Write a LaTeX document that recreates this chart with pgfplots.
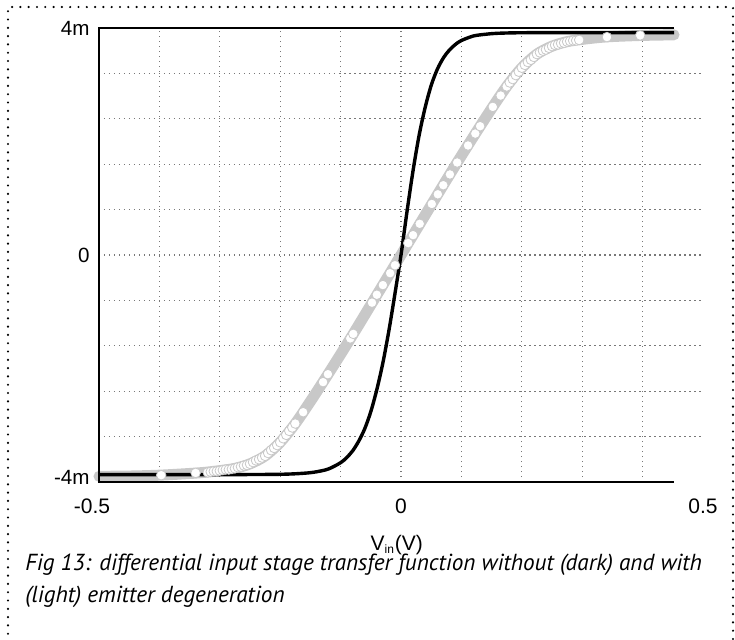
\documentclass[border=0pt]{standalone}
\usepackage{fontspec}
\setmainfont{Liberation Sans}
\newfontfamily\capfont{PT Sans}
\usepackage{pgfplots}
\pgfplotsset{compat=1.18}
\definecolor{lightg}{RGB}{200,200,200}
\definecolor{gridg}{RGB}{120,120,120}

\pgfplotstableread{
x y
-0.5 -3.87
-0.3 -3.87
-0.2 -3.864
-0.16 -3.845
-0.14 -3.82
-0.12 -3.77
-0.10 -3.66
-0.09 -3.57
-0.08 -3.45
-0.07 -3.28
-0.06 -3.06
-0.05 -2.76
-0.04 -2.37
-0.03 -1.90
-0.02 -1.33
-0.01 -0.68
0 0
0.01 0.77
0.02 1.49
0.03 2.11
0.04 2.60
0.05 2.99
0.06 3.27
0.07 3.47
0.08 3.61
0.09 3.71
0.10 3.78
0.12 3.86
0.14 3.89
0.16 3.907
0.2 3.917
0.3 3.92
0.452 3.92
}\darktab

\pgfplotstableread{
x y
-0.5 -3.90
-0.45 -3.895
-0.4 -3.88
-0.35 -3.85
-0.325 -3.83
-0.3 -3.80
-0.275 -3.76
-0.25 -3.68
-0.225 -3.54
-0.2 -3.30
-0.175 -2.97
-0.15 -2.58
-0.125 -2.17
-0.1 -1.75
-0.075 -1.32
-0.05 -0.88
-0.025 -0.44
0 0
0.025 0.44
0.05 0.88
0.075 1.32
0.1 1.75
0.125 2.17
0.15 2.58
0.175 2.97
0.2 3.30
0.225 3.54
0.25 3.68
0.275 3.76
0.3 3.80
0.325 3.83
0.35 3.85
0.4 3.87
0.452 3.88
}\lighttab

\pgfplotstableread{
x y
-0.397 -3.88
-0.340 -3.84
-0.320 -3.83
-0.315 -3.82
-0.310 -3.81
-0.305 -3.81
-0.300 -3.80
-0.295 -3.79
-0.290 -3.78
-0.285 -3.78
-0.280 -3.77
-0.275 -3.76
-0.270 -3.74
-0.265 -3.73
-0.260 -3.71
-0.255 -3.70
-0.250 -3.68
-0.245 -3.65
-0.240 -3.62
-0.235 -3.60
-0.230 -3.57
-0.225 -3.54
-0.220 -3.49
-0.215 -3.44
-0.210 -3.40
-0.205 -3.35
-0.200 -3.30
-0.195 -3.23
-0.190 -3.17
-0.185 -3.10
-0.180 -3.04
-0.175 -2.97
-0.162 -2.77
-0.129 -2.24
-0.121 -2.10
-0.084 -1.47
-0.079 -1.39
-0.048 -0.84
-0.040 -0.70
-0.030 -0.53
-0.018 -0.32
-0.010 -0.18
0.012 0.21
0.020 0.35
0.031 0.55
0.051 0.90
0.061 1.07
0.070 1.23
0.081 1.42
0.093 1.63
0.111 1.93
0.123 2.14
0.131 2.27
0.152 2.61
0.165 2.81
0.175 2.97
0.180 3.04
0.185 3.10
0.190 3.17
0.195 3.23
0.200 3.30
0.205 3.35
0.210 3.40
0.215 3.44
0.220 3.49
0.225 3.54
0.230 3.57
0.235 3.60
0.240 3.62
0.245 3.65
0.250 3.68
0.255 3.70
0.260 3.71
0.265 3.73
0.270 3.74
0.275 3.76
0.280 3.77
0.285 3.78
0.290 3.78
0.295 3.79
0.341 3.84
0.396 3.87
}\marktab

\begin{document}
\begin{tikzpicture}
\useasboundingbox (-49.5pt,-78.5pt) rectangle (318pt,241pt);
\draw[line width=1.2pt, line cap=round, dash pattern=on 0pt off 4.15pt]
  (-45.5pt,-80pt) -- (-45.5pt,237.5pt) -- (317pt,237.5pt) -- (317pt,-80pt);
\begin{axis}[
  at={(0pt,0pt)}, anchor=south west,
  scale only axis, width=302pt, height=227pt,
  xmin=-0.5, xmax=0.5, ymin=-4, ymax=4,
  clip=false,
  axis line style={draw=none},
  major tick length=0pt, minor tick length=0pt,
  xtick={-0.5,0,0.5}, xticklabels={\kern-7pt-0.5,0,0.5},
  ytick={-4,0,4}, yticklabels={\raisebox{2.5pt}{-4m},0,4m},
  minor xtick={-0.4,-0.3,-0.2,-0.1,0,0.1,0.2,0.3,0.4},
  minor ytick={-3.2,-2.4,-1.6,-0.8,0,0.8,1.6,2.4,3.2},
  xminorgrids=true, yminorgrids=true,
  minor grid style={gridg, line width=0.6pt, dash pattern=on 0.75pt off 1.75pt},
  xticklabel style={font=\fontsize{10.5}{12}\selectfont, anchor=base, yshift=-15.5pt},
  yticklabel style={font=\fontsize{10.3}{12}\selectfont, anchor=base east, inner sep=0pt, xshift=-4.5pt, yshift=-3.7pt},
  xlabel={V\textsubscript{\fontsize{6}{7}\selectfont in}(V)},
  xlabel style={at={(0.493,0)}, anchor=base, yshift=-34pt, font=\fontsize{10.5}{12}\selectfont},
]
\addplot[lightg, line width=5.5pt, line cap=round, smooth] table {\lighttab};
\addplot[only marks, mark=*, mark size=2.4pt, mark options={fill=white, draw=lightg, line width=0.4pt}] table {\marktab};
\addplot[black, line width=1.7pt, smooth] table {\darktab};
\draw[line width=1pt] (axis cs:0.452,4) -- (axis cs:-0.5,4) -- (axis cs:-0.5,-4) -- (axis cs:0.452,-4);
\end{axis}
\node[anchor=base west, inner sep=0pt, font=\capfont\itshape\fontsize{11.6}{13}\selectfont] at (-37pt,-44pt)
  {Fig 13: differential input stage transfer function without (dark) and with};
\node[anchor=base west, inner sep=0pt, font=\capfont\itshape\fontsize{11.6}{13}\selectfont] at (-37pt,-60pt)
  {(light) emitter degeneration};
\end{tikzpicture}
\end{document}
